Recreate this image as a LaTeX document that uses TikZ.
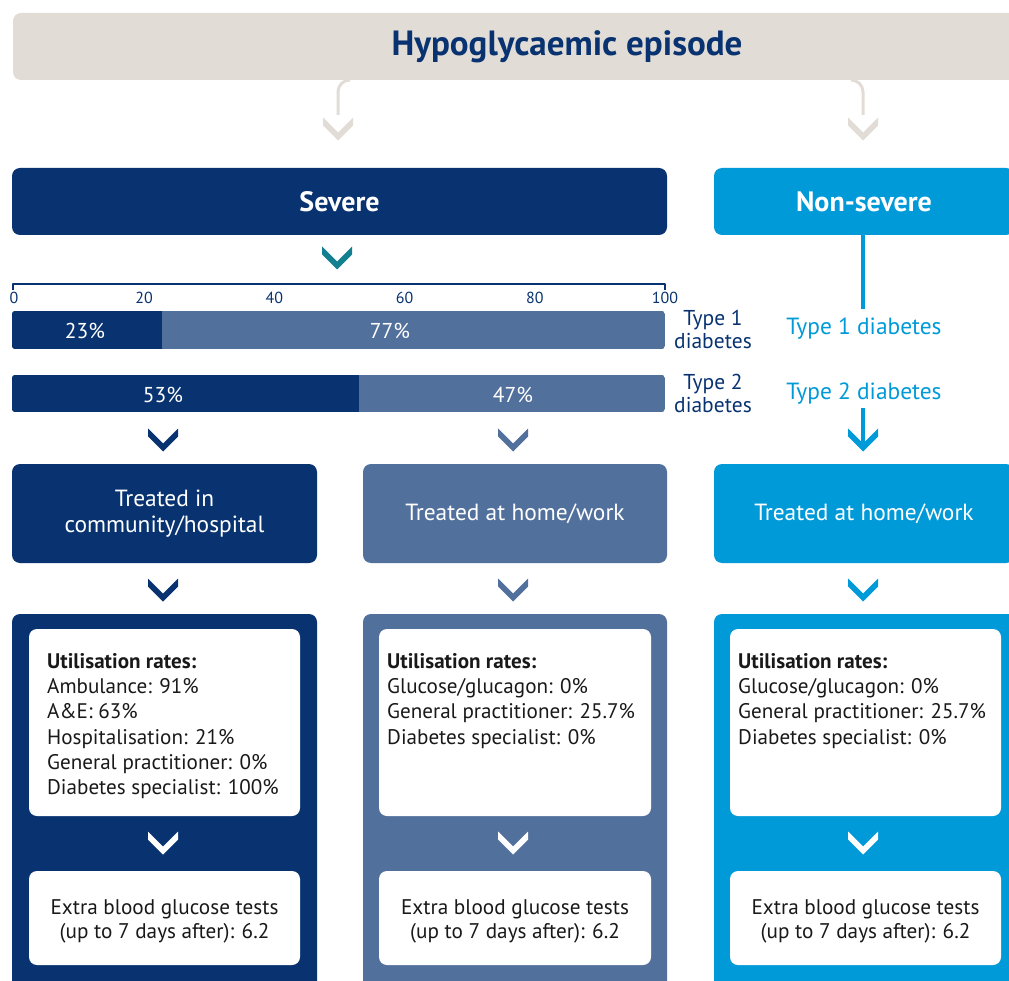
\documentclass[tikz,border=0pt]{standalone}
\usepackage{fontspec}
\setmainfont{PT Sans}
\usetikzlibrary{positioning}
\definecolor{hypoNavy}{RGB}{8,51,112}
\definecolor{hypoSlate}{RGB}{82,112,156}
\definecolor{hypoCyan}{RGB}{0,154,216}
\definecolor{hypoSand}{RGB}{226,220,214}
\definecolor{hypoTeal}{RGB}{18,128,143}
\definecolor{hypoInk}{RGB}{25,25,25}
\begin{document}
\begin{tikzpicture}[x=1pt,y=-1pt,line join=round,line cap=round]
        \tikzset{box/.style={rounded corners=8pt,inner sep=0pt,outer sep=0pt,anchor=north west},
            head text/.style={font=\fontsize{28}{32}\selectfont\bfseries,text=white},
            row text/.style={font=\fontsize{23.4}{26}\selectfont,text=white,align=center},
            body text/.style={font=\fontsize{21.1}{25.3}\selectfont,text=hypoInk,align=left,inner sep=0pt,anchor=north west},
            tests text/.style={font=\fontsize{21.2}{24}\selectfont,text=hypoInk,align=center},
            pct/.style={font=\fontsize{21.5}{24}\selectfont,text=white},
            tick label/.style={font=\fontsize{16}{18}\selectfont,text=hypoNavy},
            type label/.style={font=\fontsize{21.5}{23}\selectfont,text=hypoNavy,align=center},
            ns label/.style={font=\fontsize{23.4}{26}\selectfont,text=hypoCyan},
            link/.style={hypoSand,line width=3pt,line cap=butt,rounded corners=12pt},
            chev/.pic={\fill[pic actions] (-15,-11.5) -- (0,3.5) -- (15,-11.5) -- (15,-3.5) -- (0,11.5) -- (-15,-3.5) -- cycle;}}
        \useasboundingbox (0,0) rectangle (1009,981);
        \clip (0,0) rectangle (1009,981);
        \node[box,fill=hypoSand,minimum width=1108pt,minimum height=67pt,font=\fontsize{35}{38}\selectfont\bfseries,text=hypoNavy] (title) at (13,13) {Hypoglycaemic episode};
        \coordinate (t1) at (338,115);
        \coordinate (t2) at (863,115);
        \path (title.south -| t1) ++(12,0) coordinate (t1a);
        \path (title.south -| t2) ++(-12,0) coordinate (t2a);
        \draw[link] (t1a) -- (title.south -| t1) -- (t1);
        \draw[link] (t2a) -- (title.south -| t2) -- (t2);
        \pic[fill=hypoSand] at (338,129) {chev};
        \pic[fill=hypoSand] at (863,129) {chev};
        \node[box,fill=hypoNavy,minimum width=655pt,minimum height=67pt,head text] (severe) at (12,168) {Severe};
        \node[box,fill=hypoCyan,minimum width=300pt,minimum height=67pt,head text] (nonsevere) at (714,168) {Non-severe};
        \pic[fill=hypoTeal] at (337,258) {chev};
        \draw[hypoNavy,line width=1.5pt,line cap=butt] (13,290) -- (13,284) -- (665,284) -- (665,290);
        \foreach \v in {0,20,...,100}
            \node[tick label] (tick\v) at ({14+6.51*\v},298) {\v};
        \begin{scope}
        \clip[rounded corners=3pt] (12,311) rectangle (665,349);
        \fill[hypoSlate] (12,311) rectangle (665,349);
        \fill[hypoNavy] (12,311) rectangle (162,349);
        \end{scope}
        \begin{scope}
        \clip[rounded corners=3pt] (12,375) rectangle (665,412);
        \fill[hypoSlate] (12,375) rectangle (665,412);
        \fill[hypoNavy] (12,375) rectangle (359,412);
        \end{scope}
        \node[pct] (pa) at (85,331) {23\%};
        \node[pct] (pb) at (390,331) {77\%};
        \node[pct] (pc) at (163,395) {53\%};
        \node[pct] (pd) at (513,395) {47\%};
        \node[type label] (type1) at (713,329) {Type 1\\diabetes};
        \node[type label] (type2) at (713,393) {Type 2\\diabetes};
        \node[ns label] (ns1) at (864,329) {Type 1 diabetes};
        \node[ns label] (ns2) at (864,394) {Type 2 diabetes};
        \coordinate (ns3) at (863,443);
        \draw[hypoCyan,line width=3.5pt,line cap=butt,shorten >=6pt] (nonsevere.south -| ns3) -- (ns1.north -| ns3);
        \draw[hypoCyan,line width=3.5pt,line cap=butt] (ns2.south -| ns3) -- (ns3);
        \pic[fill=hypoNavy] at (163,440) {chev};
        \pic[fill=hypoSlate] at (513,440) {chev};
        \pic[fill=hypoCyan] at (863,440) {chev};
        \node[box,fill=hypoNavy,minimum width=305pt,minimum height=99pt,row text] (community) at (12,464) {Treated in\\community/hospital};
        \node[box,fill=hypoSlate,minimum width=304pt,minimum height=99pt,row text] (homeA) at (363,464) {Treated at home/work};
        \node[box,fill=hypoCyan,minimum width=300pt,minimum height=99pt,row text] (homeB) at (714,464) {Treated at home/work};
        \pic[fill=hypoNavy] at (163,590) {chev};
        \pic[fill=hypoSlate] at (513,590) {chev};
        \pic[fill=hypoCyan] at (863,590) {chev};
        \node[box,fill=hypoNavy,minimum width=305pt,minimum height=400pt] (panelA) at (12,614) {};
        \node[box,fill=hypoSlate,minimum width=304pt,minimum height=400pt] (panelB) at (363,614) {};
        \node[box,fill=hypoCyan,minimum width=305pt,minimum height=400pt] (panelC) at (714,614) {};
        \node[box,fill=white,minimum width=271pt,minimum height=187pt] (rateA) at (29,629) {};
        \node[box,fill=white,minimum width=272pt,minimum height=187pt] (rateB) at (379,629) {};
        \node[box,fill=white,minimum width=271pt,minimum height=187pt] (rateC) at (730,629) {};
        \node[body text] (rateAtext) at (47,653) {\textbf{Utilisation rates:}\\Ambulance: 91\%\\A\&E: 63\%\\Hospitalisation: 21\%\\General practitioner: 0\%\\Diabetes specialist: 100\%};
        \node[body text] (rateBtext) at (387,653) {\textbf{Utilisation rates:}\\Glucose/glucagon: 0\%\\General practitioner: 25.7\%\\Diabetes specialist: 0\%};
        \node[body text] (rateCtext) at (738,653) {\textbf{Utilisation rates:}\\Glucose/glucagon: 0\%\\General practitioner: 25.7\%\\Diabetes specialist: 0\%};
        \pic[fill=white] at (163,843) {chev};
        \pic[fill=white] at (513,843) {chev};
        \pic[fill=white] at (863,843) {chev};
        \node[box,fill=white,minimum width=271pt,minimum height=94pt] (testsA) at (29,871) {};
        \node[box,fill=white,minimum width=272pt,minimum height=94pt] (testsB) at (379,871) {};
        \node[box,fill=white,minimum width=271pt,minimum height=94pt] (testsC) at (730,871) {};
        \foreach \c in {A,B,C}
            \node[tests text] (tests\c text) at ([yshift=-3pt]tests\c.center) {Extra blood glucose tests\\(up to 7 days after): 6.2};
\end{tikzpicture}
\end{document}
